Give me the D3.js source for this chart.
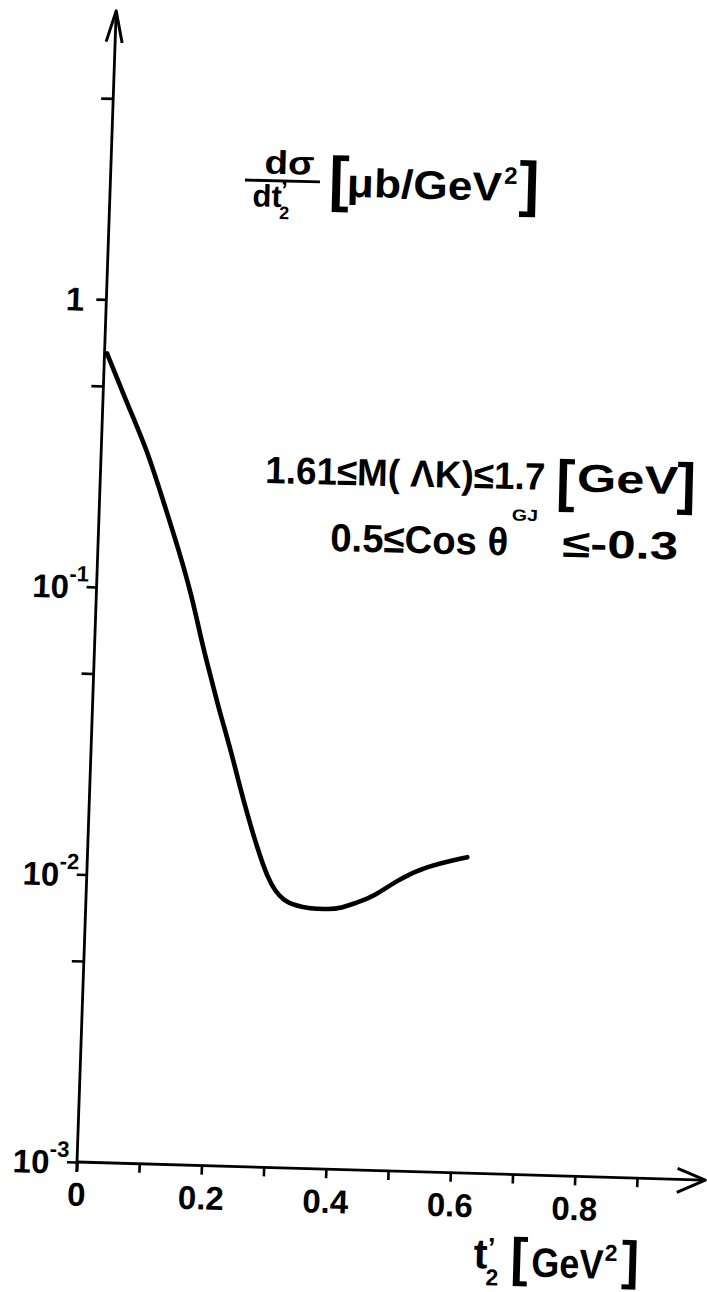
<!DOCTYPE html>
<html><head><meta charset="utf-8">
<script src="https://cdn.jsdelivr.net/npm/d3@7"></script>
<style>
body{margin:0;background:#fff}
svg{display:block}
text{font-family:"Liberation Sans",Arial,sans-serif;fill:#000;font-weight:bold}
</style>
</head><body>
<svg id="c" width="707" height="1292"></svg>
<script>
// ---- data ----
const tValues = [0.004,0.044,0.074,0.102,0.132,0.154,0.174,0.19,0.205,0.223,0.238,0.254,0.272,0.29,0.304,0.318,0.335,0.36,0.39,0.41,0.435,0.46,0.499,0.54,0.61];
const dsigma  = [0.649,0.414,0.301,0.203,0.133,0.094,0.0633,0.0486,0.0375,0.0286,0.022,0.0169,0.0129,0.0102,0.0091,0.0085,0.0082,0.0080,0.0080,0.0081,0.0085,0.0089,0.01026,0.01146,0.01254];
const xTicks = [0,0.1,0.2,0.3,0.4,0.5,0.6,0.7,0.8,0.9];
const xTickLabels = ["0","","0.2","","0.4","","0.6","","0.8",""];
const yMajorTicks = [1e-3,1e-2,1e-1,1];
const yMinorTicks = [5e-3,5e-2,5e-1,5];
const yBase = ["10","10","10","1"];
const yExp  = ["-3","-2","-1",""];
const xMax = 1.0, yMin = 1e-3, yMax = 10;

const svg = d3.select("#c");
// slight tilt of the scanned axes
const a = 1.65*Math.PI/180, b = 1.95*Math.PI/180;
const g = svg.append("g")
  .attr("transform",`matrix(${Math.cos(a)},${Math.sin(a)},${-Math.sin(b)},${Math.cos(b)},77,1162)`);

const x = d3.scaleLinear().domain([0,xMax]).range([0,622.5]);
const y = d3.scaleLog().domain([yMin,yMax]).range([0,-1150.8]);

// x axis
const xa = g.append("g").call(d3.axisBottom(x).tickValues(xTicks).tickSize(9).tickSizeOuter(0)
   .tickFormat((d,i)=>xTickLabels[i]));
xa.select(".domain").remove();
xa.selectAll(".tick line").attr("stroke","#000").attr("stroke-width",2.6);
xa.selectAll(".tick text").attr("font-size",33).attr("y",20).attr("dy","0.72em").attr("fill","#000");

// y axis ticks
const ya = g.append("g").call(d3.axisLeft(y).tickValues(yMajorTicks).tickSize(10).tickSizeOuter(0).tickFormat(""));
ya.select(".domain").remove();
ya.selectAll(".tick line").attr("stroke","#000").attr("stroke-width",2.6);
const yb = g.append("g").call(d3.axisLeft(y).tickValues(yMinorTicks).tickSize(12).tickSizeOuter(0).tickFormat(""));
yb.select(".domain").remove();
yb.selectAll(".tick line").attr("stroke","#000").attr("stroke-width",2.6);

// y labels
yMajorTicks.forEach((v,i)=>{
  const t = g.append("text").attr("text-anchor","end").attr("font-size",33)
    .attr("x", yExp[i] ? -8 : -22).attr("y", y(v)+12);
  t.append("tspan").text(yBase[i]);
  if (yExp[i]) t.append("tspan").attr("font-size",22).attr("dy",-17).text(yExp[i]);
});

// axis lines with arrows
const axisStroke = 2.8;
g.append("line").attr("x1",x(0)).attr("y1",y(yMin)).attr("x2",x(xMax)+5).attr("y2",y(yMin))
  .attr("stroke","#000").attr("stroke-width",axisStroke);
g.append("path").attr("d",`M${x(xMax)-22},${y(yMin)-11} L${x(xMax)+6},${y(yMin)} L${x(xMax)-22},${y(yMin)+13}`)
  .attr("fill","none").attr("stroke","#000").attr("stroke-width",3).attr("stroke-linejoin","round");
g.append("line").attr("x1",x(0)).attr("y1",y(yMin)+10).attr("x2",x(0)).attr("y2",y(yMax))
  .attr("stroke","#000").attr("stroke-width",axisStroke);
g.append("path").attr("d",`M${x(0)-9},${y(yMax)+30} L${x(0)},${y(yMax)-1} L${x(0)+7},${y(yMax)+31}`)
  .attr("fill","none").attr("stroke","#000").attr("stroke-width",3).attr("stroke-linejoin","round");

// curve
const pts = tValues.map((t,i)=>[t,dsigma[i]]);
g.append("path").datum(pts)
  .attr("d", d3.line().x(d=>x(d[0])).y(d=>y(d[1])).curve(d3.curveBasis))
  .attr("fill","none").attr("stroke","#000").attr("stroke-width",4.6).attr("stroke-linecap","round");

// ---- annotations ----
const SG = "spacingAndGlyphs";
const T = svg.append("g").attr("transform","rotate(1.5,245,179)");
T.append("text").attr("x",264).attr("y",173).attr("font-size",33).attr("textLength",50).attr("lengthAdjust",SG).text("dσ");
T.append("line").attr("x1",245).attr("x2",320).attr("y1",180).attr("y2",180).attr("stroke","#000").attr("stroke-width",2.8);
const den = T.append("text").attr("x",253).attr("y",206).attr("font-size",31);
den.append("tspan").text("dt");
den.append("tspan").attr("font-size",24).attr("dx",-1).attr("dy",-9).text("’");
den.append("tspan").attr("font-size",18).attr("dx",-8).attr("dy",21).text("2");
T.append("text").attr("x",329).attr("y",197).attr("font-size",61).text("[");
T.append("text").attr("x",347).attr("y",194).attr("font-size",40).attr("textLength",155).attr("lengthAdjust",SG).text("μb/GeV");
T.append("text").attr("x",504).attr("y",177).attr("font-size",24).text("2");
T.append("text").attr("x",519).attr("y",197).attr("font-size",61).text("]");

const L1 = svg.append("g").attr("transform","rotate(1.4,265,482)");
L1.append("text").attr("x",265).attr("y",483).attr("font-size",38).attr("textLength",280).attr("lengthAdjust",SG).text("1.61≤M( ΛK)≤1.7");
L1.append("text").attr("x",556).attr("y",493).attr("font-size",57).text("[");
L1.append("text").attr("x",577).attr("y",484).attr("font-size",39).attr("textLength",101).attr("lengthAdjust",SG).text("GeV");
L1.append("text").attr("x",677).attr("y",493).attr("font-size",57).text("]");

const L2 = svg.append("g").attr("transform","rotate(1.4,330,550)");
L2.append("text").attr("x",330).attr("y",551).attr("font-size",39).attr("textLength",178).attr("lengthAdjust",SG).text("0.5≤Cos θ");
L2.append("text").attr("x",511).attr("y",516).attr("font-size",16).attr("textLength",26).attr("lengthAdjust",SG).text("GJ");
L2.append("text").attr("x",562).attr("y",551).attr("font-size",39).attr("textLength",116).attr("lengthAdjust",SG).text("≤-0.3");

const XL = svg.append("g").attr("transform","rotate(1.6,473,1274)");
const tl = XL.append("text").attr("x",473).attr("y",1268).attr("font-size",42);
tl.append("tspan").text("t");
tl.append("tspan").attr("font-size",27).attr("dx",0).attr("dy",-12).text("’");
tl.append("tspan").attr("font-size",23).attr("dx",-9).attr("dy",29).text("2");
XL.append("text").attr("x",510).attr("y",1274).attr("font-size",53).text("[");
XL.append("text").attr("x",531).attr("y",1275).attr("font-size",41).attr("textLength",72).attr("lengthAdjust",SG).text("GeV");
XL.append("text").attr("x",604).attr("y",1257).attr("font-size",23).text("2");
XL.append("text").attr("x",621).attr("y",1274).attr("font-size",53).text("]");
</script>
</body></html>
